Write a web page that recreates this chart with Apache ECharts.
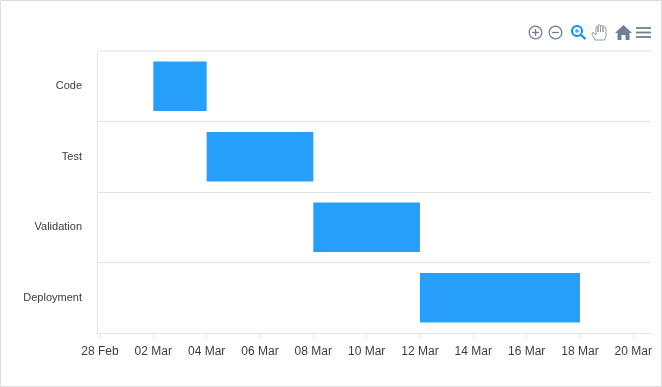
<!DOCTYPE html>
<html><head><meta charset="utf-8">
<style>html,body{margin:0;padding:0;background:#fff}#c{width:662px;height:387px}</style>
<script src="https://cdn.jsdelivr.net/npm/echarts@6/dist/echarts.min.js"></script>
</head><body><div id="c"></div>
<script>
const categories = ['Code', 'Test', 'Validation', 'Deployment'];
const startDates = ['2019-03-02', '2019-03-04', '2019-03-08', '2019-03-12'];
const endDates = ['2019-03-04', '2019-03-08', '2019-03-12', '2019-03-18'];
const tickDates = ['2019-02-28','2019-03-02','2019-03-04','2019-03-06','2019-03-08','2019-03-10','2019-03-12','2019-03-14','2019-03-16','2019-03-18','2019-03-20'];
const axisStart = '2019-02-27T21:20:00Z';
const axisEnd = '2019-03-20T15:56:00Z';
const MONTHS = ['Jan','Feb','Mar','Apr','May','Jun','Jul','Aug','Sep','Oct','Nov','Dec'];
const ms = s => new Date(s).getTime();
const tickValues = tickDates.map(ms);
const fmt = v => { const d = new Date(v); return String(d.getUTCDate()).padStart(2,'0') + ' ' + MONTHS[d.getUTCMonth()]; };
const INK = '#6e8192', LINE = '#e3e3e3', FONT = '"Liberation Sans", Helvetica, Arial, sans-serif';
const stroke = {stroke: INK, fill: 'none', lineWidth: 1.3};
const chart = echarts.init(document.getElementById('c'), null, {renderer: 'canvas'});
chart.setOption({
  animation: false,
  backgroundColor: '#fff',
  textStyle: {fontFamily: FONT},
  grid: {left: 97, right: 11, top: 51, bottom: 54, containLabel: false},
  xAxis: {
    type: 'value', min: ms(axisStart), max: ms(axisEnd),
    axisLine: {show: true, lineStyle: {color: LINE, width: 1}},
    axisTick: {show: true, length: 6, lineStyle: {color: LINE}, customValues: tickValues},
    axisLabel: {color: '#373d3f', fontSize: 12, fontFamily: FONT, margin: 13, customValues: tickValues, formatter: fmt, hideOverlap: false, showMinLabel: true, showMaxLabel: true},
    splitLine: {show: false}
  },
  yAxis: {
    type: 'category', data: categories, inverse: true,
    axisLine: {show: true, lineStyle: {color: LINE, width: 1}},
    axisTick: {show: false},
    axisLabel: {color: '#373d3f', fontSize: 11, fontFamily: FONT, margin: 15},
    splitLine: {show: true, interval: 0, lineStyle: {color: LINE, width: 1}}
  },
  series: [
    {type: 'bar', stack: 'g', silent: true, barWidth: '70%', itemStyle: {color: 'transparent'}, data: startDates.map(ms)},
    {type: 'bar', stack: 'g', silent: true, barWidth: '70%', itemStyle: {color: '#269ffb'}, data: endDates.map((e, i) => ms(e) - ms(startDates[i]))}
  ],
  graphic: [
    {type: 'rect', silent: true, z: 100, shape: {x: 0.5, y: 0.5, width: 661, height: 386}, style: {fill: 'none', stroke: '#dcdcdc', lineWidth: 1}},
    {type: 'rect', silent: true, z: 100, shape: {x: 97, y: 50, width: 554, height: 2}, style: {fill: '#f0f0f0'}},
    {type: 'circle', shape: {cx: 535.5, cy: 32.5, r: 6.3}, style: stroke},
    {type: 'line', shape: {x1: 532, y1: 32.5, x2: 539, y2: 32.5}, style: stroke},
    {type: 'line', shape: {x1: 535.5, y1: 29, x2: 535.5, y2: 36}, style: stroke},
    {type: 'circle', shape: {cx: 555.5, cy: 32.5, r: 6.3}, style: stroke},
    {type: 'line', shape: {x1: 552, y1: 32.5, x2: 559, y2: 32.5}, style: stroke},
    {type: 'circle', shape: {cx: 577, cy: 31, r: 5}, style: {stroke: '#008ffb', fill: 'none', lineWidth: 2}},
    {type: 'line', shape: {x1: 581, y1: 35, x2: 585.5, y2: 39}, style: {stroke: '#008ffb', lineWidth: 2.2}},
    {type: 'line', shape: {x1: 574.8, y1: 31, x2: 579.2, y2: 31}, style: {stroke: '#008ffb', lineWidth: 1}},
    {type: 'line', shape: {x1: 577, y1: 28.8, x2: 577, y2: 33.2}, style: {stroke: '#008ffb', lineWidth: 1}},
    {type: 'polygon', shape: {points: [[595,40],[592,34],[592.5,32.5],[594,33],[596,35],[596,27],[597,26],[598,27],[598,32],[598,25.5],[599,24.7],[600.5,25.5],[600.5,32],[600.5,26],[602,25.2],[603,26],[603,32],[603,27.5],[604.5,26.7],[606,27.5],[606,36],[604.5,40]]}, style: {stroke: '#8f9da9', fill: '#fff', lineWidth: 1}},
    {type: 'polygon', shape: {points: [[623.5,25],[632,33],[629.5,33],[629.5,40],[625.5,40],[625.5,35],[621.5,35],[621.5,40],[617.5,40],[617.5,33],[615,33]]}, style: {fill: INK}},
    {type: 'line', shape: {x1: 636, y1: 28, x2: 651, y2: 28}, style: {stroke: INK, lineWidth: 1.8}},
    {type: 'line', shape: {x1: 636, y1: 32.5, x2: 651, y2: 32.5}, style: {stroke: INK, lineWidth: 1.8}},
    {type: 'line', shape: {x1: 636, y1: 37, x2: 651, y2: 37}, style: {stroke: INK, lineWidth: 1.8}}
  ]
});
</script></body></html>
